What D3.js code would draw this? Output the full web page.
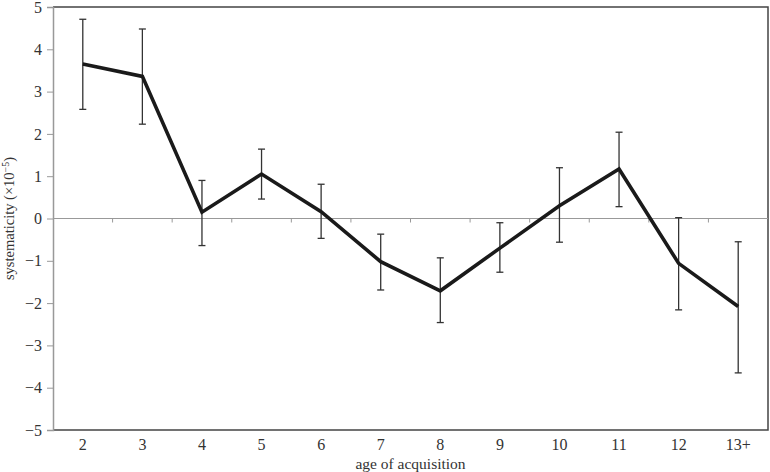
<!DOCTYPE html>
<html>
<head>
<meta charset="utf-8">
<script src="https://cdn.jsdelivr.net/npm/d3@7"></script>
<style>
  body { margin: 0; background: #fff; }
  text { font-family: "Liberation Serif", "DejaVu Serif", serif; fill: #333; }
</style>
</head>
<body>
<div class="chart"></div>
<script>
// age of acquisition categories and systematicity (x10^-5)
var ages = ["2", "3", "4", "5", "6", "7", "8", "9", "10", "11", "12", "13+"];
var meanVals = [3.65, 3.36, 0.15, 1.05, 0.16, -1.02, -1.71, -0.70, 0.30, 1.17, -1.06, -2.08];
var upperVals = [4.71, 4.48, 0.90, 1.64, 0.81, -0.37, -0.93, -0.10, 1.20, 2.04, 0.02, -0.55];
var lowerVals = [2.58, 2.23, -0.64, 0.46, -0.47, -1.69, -2.46, -1.27, -0.56, 0.28, -2.16, -3.65];
var yTicks = [-5, -4, -3, -2, -1, 0, 1, 2, 3, 4, 5];

var width = 770, height = 472;
var margin = {top: 7, right: 2, bottom: 42, left: 53};

var svg = d3.select(".chart")
    .append("svg")
    .attr("width", width)
    .attr("height", height);

var x = d3.scaleBand()
    .domain(ages)
    .range([margin.left, width - margin.right]);

var y = d3.scaleLinear()
    .domain([-5, 5])
    .range([height - margin.bottom, margin.top]);

var data = ages.map(function(a, i) {
  return {age: a, v: meanVals[i], hi: upperVals[i], lo: lowerVals[i]};
});

// frame: top, right, bottom dark
svg.append("path")
    .attr("d", "M" + x.range()[0] + "," + y(5) + "H" + x.range()[1] + "V" + y(-5) + "H" + x.range()[0])
    .style("fill", "none")
    .style("stroke", "#444")
    .style("stroke-width", 1.5);

// left axis
var yAxis = d3.axisLeft(y).tickValues(yTicks).tickSize(6).tickPadding(5)
    .tickFormat(function(d) { return d < 0 ? "\u2212" + Math.abs(d) : d; });

var gy = svg.append("g")
    .attr("transform", "translate(" + margin.left + ",0)")
    .call(yAxis);
gy.select(".domain").style("stroke", "#999").style("stroke-width", 1.5);
gy.selectAll(".tick line").style("stroke", "#999");
gy.selectAll(".tick text").style("font-size", "16px").style("fill", "#333");

// zero line with category ticks
svg.append("line")
    .attr("x1", x.range()[0]).attr("x2", x.range()[1])
    .attr("y1", y(0)).attr("y2", y(0))
    .style("stroke", "#999")
    .style("stroke-width", 1.2);

svg.append("g").selectAll("line")
    .data(ages.slice(1))
    .enter().append("line")
    .attr("x1", function(d) { return x(d); })
    .attr("x2", function(d) { return x(d); })
    .attr("y1", y(0)).attr("y2", y(0) + 4)
    .style("stroke", "#999");

// x labels
svg.append("g").selectAll("text")
    .data(ages)
    .enter().append("text")
    .attr("x", function(d) { return x(d) + x.bandwidth() / 2; })
    .attr("y", y(-5) + 20)
    .attr("text-anchor", "middle")
    .style("font-size", "16px")
    .text(function(d) { return d; });

// error bars
var cx = function(d) { return x(d.age) + x.bandwidth() / 2; };
var err = svg.append("g").selectAll("g")
    .data(data)
    .enter().append("g")
    .style("stroke", "#333")
    .style("stroke-width", 1.3);

err.append("line")
    .attr("x1", cx).attr("x2", cx)
    .attr("y1", function(d) { return y(d.hi); })
    .attr("y2", function(d) { return y(d.lo); });
err.append("line")
    .attr("x1", function(d) { return cx(d) - 3.5; })
    .attr("x2", function(d) { return cx(d) + 3.5; })
    .attr("y1", function(d) { return y(d.hi); })
    .attr("y2", function(d) { return y(d.hi); });
err.append("line")
    .attr("x1", function(d) { return cx(d) - 3.5; })
    .attr("x2", function(d) { return cx(d) + 3.5; })
    .attr("y1", function(d) { return y(d.lo); })
    .attr("y2", function(d) { return y(d.lo); });

// mean line
var line = d3.line()
    .x(cx)
    .y(function(d) { return y(d.v); });

svg.append("path")
    .datum(data)
    .attr("d", line)
    .style("fill", "none")
    .style("stroke", "#1a1a1a")
    .style("stroke-width", 3.6)
    .style("stroke-linejoin", "miter");

// axis titles
svg.append("text")
    .attr("x", (x.range()[0] + x.range()[1]) / 2)
    .attr("y", height - 3)
    .attr("text-anchor", "middle")
    .style("font-size", "15.5px")
    .text("age of acquisition");

var yt = svg.append("text")
    .attr("transform", "translate(14," + y(0) + ") rotate(-90)")
    .attr("text-anchor", "middle")
    .style("font-size", "14.5px");
yt.append("tspan").text("systematicity (\u00d710");
yt.append("tspan").attr("dy", -5).style("font-size", "10px").text("\u22125");
yt.append("tspan").attr("dy", 5).text(")");
</script>
</body>
</html>
